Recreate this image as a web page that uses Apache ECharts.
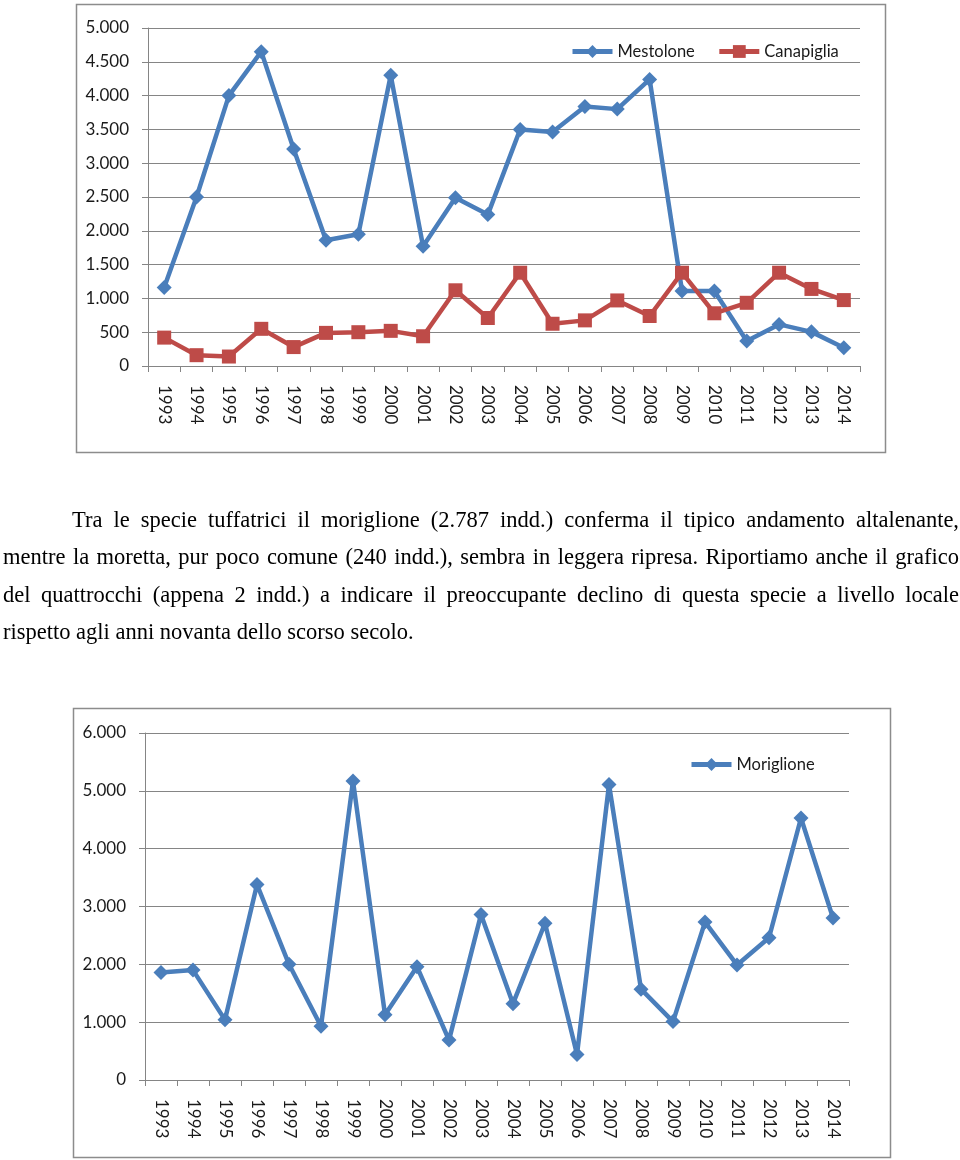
<!DOCTYPE html>
<html>
<head>
<meta charset="utf-8">
<script src="https://cdn.jsdelivr.net/npm/echarts@6/dist/echarts.min.js"></script>
<style>
  html, body { margin: 0; padding: 0; background: #fff; }
  #chart { position: absolute; left: 0; top: 0; width: 960px; height: 1160px; }
  #text { position: absolute; left: 3px; top: 501px; width: 956px; font-family: "Liberation Serif", "Times New Roman", serif; font-size: 22.5px; line-height: 37.3px; color: #000; z-index: 2; }
  #text div { text-align: justify; text-align-last: justify; white-space: nowrap; }
  #text div.last { text-align-last: left; }
  #text div.first { padding-left: 69px; }
</style>
</head>
<body>
<div id="chart"></div>
<div id="text">
  <div class="first">Tra le specie tuffatrici il moriglione (2.787 indd.) conferma il tipico andamento altalenante,</div>
  <div>mentre la moretta, pur poco comune (240 indd.), sembra in leggera ripresa. Riportiamo anche il grafico</div>
  <div>del quattrocchi (appena 2 indd.) a indicare il preoccupante declino di questa specie a livello locale</div>
  <div class="last">rispetto agli anni novanta dello scorso secolo.</div>
</div>
<script>
const years = ['1993','1994','1995','1996','1997','1998','1999','2000','2001','2002','2003','2004','2005','2006','2007','2008','2009','2010','2011','2012','2013','2014'];
const mestolone = [1160,2500,4000,4650,3210,1860,1950,4300,1770,2490,2240,3500,3460,3840,3800,4240,1110,1110,370,615,505,270];
const canapiglia = [420,160,140,550,280,490,500,520,440,1120,710,1380,625,675,970,740,1380,780,935,1380,1140,975];
const moriglione = [1860,1900,1040,3380,2000,930,5170,1130,1960,690,2860,1320,2710,440,5110,1570,1010,2730,1990,2460,4530,2800];

const BLUE = '#4A7EBB';
const RED = '#BE4B48';
const GRID = '#858585';
const FONT = 'Lato';

function fmt(v) {
  if (v >= 1000) return (v / 1000).toFixed(3);
  return String(v);
}

function xAxis(gridIndex) {
  return {
    type: 'category', gridIndex: gridIndex, data: years, boundaryGap: true,
    axisLine: { lineStyle: { color: GRID, width: 1 } },
    axisTick: { show: true, length: 6, alignWithLabel: false, lineStyle: { color: GRID } },
    axisLabel: { rotate: -90, margin: 19, color: '#1a1a1a', fontFamily: FONT, fontSize: 17, interval: 0 }
  };
}
function yAxis(gridIndex, max, interval) {
  return {
    type: 'value', gridIndex: gridIndex, min: 0, max: max, interval: interval,
    axisLine: { show: true, lineStyle: { color: GRID, width: 1 } },
    axisTick: { show: true, length: 6, lineStyle: { color: GRID } },
    splitLine: { show: true, lineStyle: { color: GRID, width: 1 } },
    axisLabel: { margin: 19, color: '#1a1a1a', fontFamily: FONT, fontSize: 17, formatter: fmt }
  };
}

const legendText = { fontFamily: FONT, fontSize: 16.5, color: '#1a1a1a' };

const chart = echarts.init(document.getElementById('chart'), null, { renderer: 'canvas' });
chart.setOption({
  animation: false,
  backgroundColor: '#fff',
  graphic: [
    { type: 'rect', shape: { x: 76.5, y: 4.5, width: 809, height: 448 }, style: { fill: 'none', stroke: '#8C8C8C', lineWidth: 1.5 }, z: -1 },
    { type: 'rect', shape: { x: 73.5, y: 708.5, width: 817, height: 449 }, style: { fill: 'none', stroke: '#8C8C8C', lineWidth: 1.5 }, z: -1 }
  ],
  grid: [
    { left: 148, right: 100, top: 28, bottom: 794, containLabel: false },
    { left: 145, right: 111, top: 733, bottom: 80, containLabel: false }
  ],
  legend: [
    { data: ['Mestolone', 'Canapiglia'], left: 565, top: 38, itemWidth: 40, itemHeight: 16, itemGap: 22,
      lineStyle: { width: 5 }, textStyle: legendText },
    { data: ['Moriglione'], left: 684, top: 751, itemWidth: 40, itemHeight: 16,
      lineStyle: { width: 5 }, textStyle: legendText }
  ],
  xAxis: [xAxis(0), xAxis(1)],
  yAxis: [yAxis(0, 5000, 500), yAxis(1, 6000, 1000)],
  series: [
    { name: 'Mestolone', type: 'line', xAxisIndex: 0, yAxisIndex: 0, data: mestolone,
      symbol: 'diamond', symbolSize: 15, lineStyle: { color: BLUE, width: 4.5 }, itemStyle: { color: BLUE } },
    { name: 'Canapiglia', type: 'line', xAxisIndex: 0, yAxisIndex: 0, data: canapiglia,
      symbol: 'rect', symbolSize: 14, lineStyle: { color: RED, width: 4.5 }, itemStyle: { color: RED } },
    { name: 'Moriglione', type: 'line', xAxisIndex: 1, yAxisIndex: 1, data: moriglione,
      symbol: 'diamond', symbolSize: 15, lineStyle: { color: BLUE, width: 4.5 }, itemStyle: { color: BLUE } }
  ]
});
</script>
</body>
</html>
